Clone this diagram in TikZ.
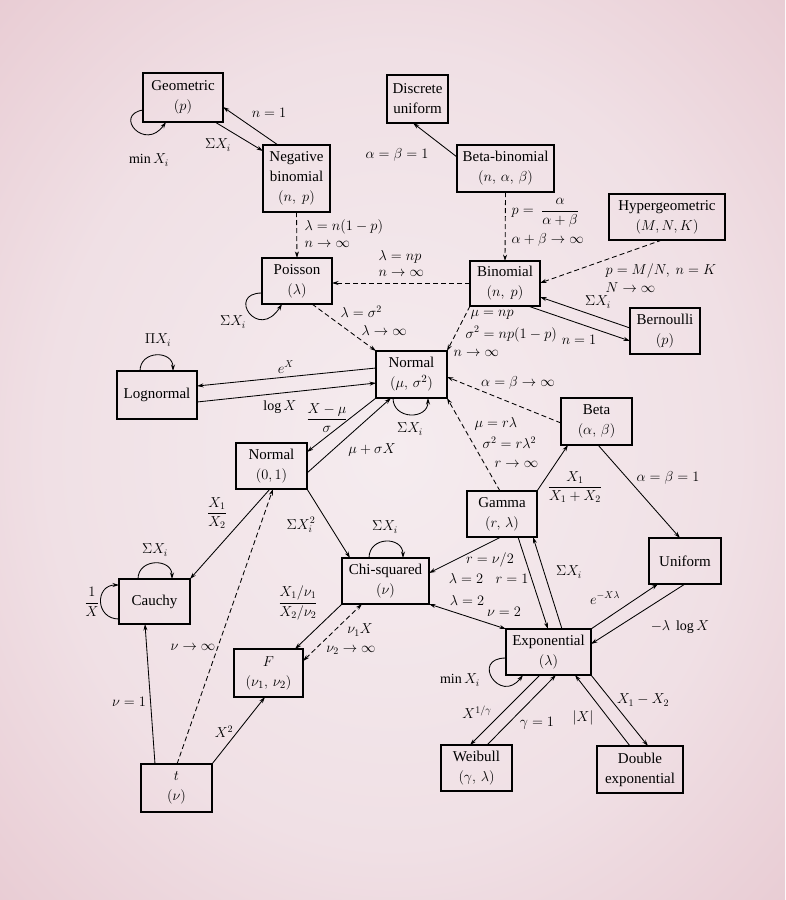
\documentclass[tikz,border=0pt]{standalone}
\usepackage{amsmath}
\usepackage{fontspec}
\setmainfont{Liberation Serif}
\usetikzlibrary{arrows.meta,calc}
\definecolor{bgA}{RGB}{245,236,239}
\definecolor{bgB}{RGB}{240,224,229}
\definecolor{bgC}{RGB}{225,184,194}
\pgfdeclareradialshading{bgshade}{\pgfpoint{0bp}{0bp}}{color(0bp)=(bgA); color(22bp)=(bgB); color(50bp)=(bgC)}
\tikzset{
  box/.style={draw, line width=1.6pt, inner sep=0pt, outer sep=0pt, align=center,
    font=\fontsize{15}{20}\selectfont},
  lab/.style={font=\fontsize{14}{16}\selectfont, inner sep=0.5pt},
  arr/.style={-{Stealth[length=6.5pt,width=4pt]}, line width=0.85pt},
  arrtwo/.style={{Stealth[length=6.5pt,width=4pt]}-{Stealth[length=6.5pt,width=4pt]}, line width=0.85pt},
  dsh/.style={dash pattern=on 5pt off 3pt}
}
\begin{document}
\begin{tikzpicture}[x=1pt,y=-1pt]
\shade[shading=bgshade] (0,0) rectangle (785,900);
\useasboundingbox (0,0) rectangle (785,900);

% boxes
\node[box, minimum width=80pt, minimum height=49pt] (geo) at (183,97.5) {Geometric\\$(p)$};
\node[box, minimum width=67pt, minimum height=67pt] (negbin) at (296.5,178.5) {Negative\\binomial\\$(n,\ p)$};
\node[box, minimum width=61pt, minimum height=48pt] (dunif) at (417.5,99) {Discrete\\uniform};
\node[box, minimum width=97pt, minimum height=47pt] (betabin) at (505.5,168.5) {Beta-binomial\\$(n,\,\alpha,\,\beta)$};
\node[box, minimum width=116pt, minimum height=46pt] (hyper) at (667,217) {Hypergeometric\\$(M,N,K)$};
\node[box, minimum width=70pt, minimum height=45pt] (binom) at (505,283.5) {Binomial\\$(n,\ p)$};
\node[box, minimum width=70pt, minimum height=46pt] (bern) at (665,331) {Bernoulli\\$(p)$};
\node[box, minimum width=71pt, minimum height=47pt] (normal) at (411.5,374.5) {Normal\\$(\mu,\,\sigma^2)$};
\node[box, minimum width=71pt, minimum height=47pt] (beta) at (596.5,421.5) {Beta\\$(\alpha,\,\beta)$};
\node[box, minimum width=70pt, minimum height=46pt] (poisson) at (297,281) {Poisson\\$(\lambda)$};
\node[box, minimum width=80pt, minimum height=48pt] (logn) at (157,395) {Lognormal};
\node[box, minimum width=71pt, minimum height=46pt] (snorm) at (271.5,466) {Normal\\$(0,1)$};
\node[box, minimum width=71pt, minimum height=45pt] (cauchy) at (154.5,601.5) {Cauchy};
\node[box, minimum width=87pt, minimum height=46pt] (chisq) at (385.5,581) {Chi-squared\\$(\nu)$};
\node[box, minimum width=70pt, minimum height=46pt] (gamma) at (502,514) {Gamma\\$(r,\,\lambda)$};
\node[box, minimum width=72pt, minimum height=46pt] (unif) at (685,561) {Uniform};
\node[box, minimum width=85pt, minimum height=46pt] (expo) at (548.5,652) {Exponential\\$(\lambda)$};
\node[box, minimum width=71pt, minimum height=46pt] (weib) at (476.5,768) {Weibull\\$(\gamma,\,\lambda)$};
\node[box, minimum width=86pt, minimum height=47pt] (dexp) at (640,769.5) {Double\\exponential};
\node[box, minimum width=69pt, minimum height=48pt] (F) at (268.5,673) {$F$\\$(\nu_1,\,\nu_2)$};
\node[box, minimum width=71pt, minimum height=48pt] (t) at (176.5,788) {$t$\\$(\nu)$};

% connectors
\draw[arr] ($(negbin.north west)+(15,0)$) -- ($(geo.north west)+(80,34)$);
\draw[arr] ($(geo.north west)+(72,49)$) -- ($(negbin.north west)+(0,6)$);
\draw[arr] ($(geo.north west)+(0,37)$) .. controls +(-30,5) and +(-21,30) .. ($(geo.north west)+(23,49)$);
\draw[arr,dsh] (negbin.south) -- (poisson.north);
\draw[arr] ($(betabin.north west)+(0,12)$) -- ($(dunif.north west)+(26,48)$);
\draw[arr,dsh] (betabin.south) -- (binom.north);
\draw[arr,dsh] ($(hyper.north west)+(53,46)$) -- ($(binom.north west)+(70,22)$);
\draw[arr,dsh] ($(binom.north west)+(0,22)$) -- ($(poisson.north west)+(70,25)$);
\draw[arr] ($(bern.north west)+(0,20)$) -- ($(binom.north west)+(70,36)$);
\draw[arr] ($(binom.north west)+(58,45)$) -- ($(bern.north west)+(0,33)$);
\draw[arr,dsh] (binom.south west) -- (normal.north east);
\draw[arr,dsh] ($(poisson.north west)+(50,46)$) -- (normal.north west);
\draw[arr] ($(poisson.north west)+(0,35)$) .. controls +(-36,0) and +(-24,38) .. ($(poisson.north west)+(20,46)$);
\draw[arr] ($(normal.north west)+(0,17)$) -- ($(logn.north west)+(80,15)$);
\draw[arr] ($(logn.north west)+(80,31)$) -- ($(normal.north west)+(0,32)$);
\draw[arr] ($(logn.north west)+(23,0)$) .. controls +(0,-21) and +(0,-21) .. ($(logn.north west)+(56,0)$);
\draw[arr] (normal.south west) -- ($(snorm.north west)+(71,9)$);
\draw[arr] ($(snorm.north west)+(71,30)$) -- ($(normal.north west)+(15,47)$);
\draw[arr] ($(normal.north west)+(17,47)$) .. controls +(0,22) and +(0,22) .. ($(normal.north west)+(52,47)$);
\draw[arr,dsh] ($(beta.north west)+(0,25)$) -- ($(normal.north west)+(71,26)$);
\draw[arr,dsh] ($(gamma.north west)+(33,0)$) -- (normal.south east);
\draw[arr] (gamma.north east) -- ($(beta.north west)+(7,47)$);
\draw[arr] ($(beta.north west)+(37,47)$) -- ($(unif.north west)+(31,0)$);
\draw[arr] (expo.north east) -- ($(unif.north west)+(9,46)$);
\draw[arr] ($(unif.north west)+(36,46)$) -- ($(expo.north west)+(85,15)$);
\draw[arr] ($(gamma.north west)+(51,46)$) -- ($(expo.north west)+(42,0)$);
\draw[arr] ($(expo.north west)+(56,0)$) -- ($(gamma.north west)+(66,46)$);
\draw[arr] ($(gamma.north west)+(34,46)$) -- ($(chisq.north west)+(87,15)$);
\draw[arrtwo] (chisq.south east) -- (expo.north west);
\draw[arr] ($(chisq.north west)+(27,0)$) .. controls +(0,-22) and +(0,-22) .. ($(chisq.north west)+(61,0)$);
\draw[arr] (snorm.south east) -- ($(chisq.north west)+(8,0)$);
\draw[arr] ($(snorm.north west)+(34,46)$) -- (cauchy.north east);
\draw[arr] ($(cauchy.north west)+(19,0)$) .. controls +(0,-21) and +(0,-21) .. ($(cauchy.north west)+(53,0)$);
\draw[arr] ($(cauchy.north west)+(0,40)$) .. controls +(-24,0) and +(-24,0) .. ($(cauchy.north west)+(0,6)$);
\draw[arr] ($(t.north west)+(14,0)$) -- ($(cauchy.north west)+(26,45)$);
\draw[arr,dsh] ($(t.north west)+(36,0)$) -- ($(snorm.north west)+(37,46)$);
\draw[arr] (t.north east) -- ($(F.north west)+(31,48)$);
\draw[arr] (chisq.south west) -- ($(F.north west)+(61,0)$);
\draw[arrtwo,dsh] ($(F.north west)+(69,12)$) -- ($(chisq.north west)+(20,46)$);
\draw[arr] ($(expo.north west)+(0,29)$) .. controls +(-36,0) and +(-23,30) .. ($(expo.north west)+(17,46)$);
\draw[arr] ($(expo.north west)+(34,46)$) -- ($(weib.north west)+(29,0)$);
\draw[arr] ($(weib.north west)+(46,0)$) -- ($(expo.north west)+(50,46)$);
\draw[arr] ($(dexp.north west)+(33,0)$) -- ($(expo.north west)+(69,46)$);
\draw[arr] (expo.south east) -- ($(dexp.north west)+(51,0)$);

% labels
\node[lab] (L1) at (269,113) {$n=1$};
\node[lab] (L2) at (218,145) {$\Sigma X_i$};
\node[lab] (L3) at (149,160) {$\min X_i$};
\node[lab, anchor=west] (L4) at (304,227) {$\lambda=n(1-p)$};
\node[lab, anchor=west] (L5) at (304,244) {$n\to\infty$};
\node[lab] (L6) at (397,155) {$\alpha=\beta=1$};
\node[lab, anchor=west] (L7) at (511,213) {$p=\ \dfrac{\alpha}{\alpha+\beta}$};
\node[lab, anchor=west] (L8) at (511,240) {$\alpha+\beta\to\infty$};
\node[lab, anchor=west] (L9) at (605,271) {$p=M/N,\ n=K$};
\node[lab, anchor=west] (L10) at (605,288) {$N\to\infty$};
\node[lab, anchor=west] (L11) at (378,257) {$\lambda=np$};
\node[lab, anchor=west] (L12) at (378,273) {$n\to\infty$};
\node[lab] (L13) at (598,302) {$\Sigma X_i$};
\node[lab] (L14) at (579,340) {$n=1$};
\node[lab, anchor=west] (L15) at (470,315) {$\mu=np$};
\node[lab, anchor=west] (L16) at (465,334) {$\sigma^2=np(1-p)$};
\node[lab, anchor=west] (L17) at (453,353) {$n\to\infty$};
\node[lab, anchor=west] (L18) at (340,312) {$\lambda=\sigma^2$};
\node[lab, anchor=west] (L19) at (361,330) {$\lambda\to\infty$};
\node[lab] (L20) at (233,322) {$\Sigma X_i$};
\node[lab] (L21) at (158,340) {$\Pi X_i$};
\node[lab] (L22) at (286,367) {$e^X$};
\node[lab] (L23) at (280,407) {$\log X$};
\node[lab] (L24) at (327,418) {$\dfrac{X-\mu}{\sigma}$};
\node[lab] (L25) at (372,450) {$\mu+\sigma X$};
\node[lab] (L26) at (410,429) {$\Sigma X_i$};
\node[lab] (L27) at (518,383) {$\alpha=\beta\to\infty$};
\node[lab, anchor=west] (L28) at (474,424) {$\mu=r\lambda$};
\node[lab, anchor=west] (L29) at (482,443) {$\sigma^2=r\lambda^2$};
\node[lab, anchor=west] (L30) at (494,464) {$r\to\infty$};
\node[lab] (L31) at (575,487) {$\dfrac{X_1}{X_1+X_2}$};
\node[lab] (L32) at (668,478) {$\alpha=\beta=1$};
\node[lab] (L33) at (385,527) {$\Sigma X_i$};
\node[lab] (L34) at (490,560) {$r=\nu/2$};
\node[lab] (L35) at (466,578) {$\lambda=2$};
\node[lab] (L36) at (512,579) {$r=1$};
\node[lab] (L37) at (569,572) {$\Sigma X_i$};
\node[lab] (L38) at (467,600) {$\lambda=2$};
\node[lab] (L39) at (504,612) {$\nu=2$};
\node[lab] (L40) at (605,598) {$e^{-X\lambda}$};
\node[lab] (L41) at (680,627) {$-\lambda\ \log X$};
\node[lab] (L42) at (460,680) {$\min X_i$};
\node[lab] (L43) at (477,712) {$X^{1/\gamma}$};
\node[lab] (L44) at (537,723) {$\gamma=1$};
\node[lab] (L45) at (583,718) {$|X|$};
\node[lab] (L46) at (643,700) {$X_1-X_2$};
\node[lab] (L47) at (301,525) {$\Sigma X^2_i$};
\node[lab] (L48) at (217,513) {$\dfrac{X_1}{X_2}$};
\node[lab] (L49) at (155,550) {$\Sigma X_i$};
\node[lab] (L50) at (92,602) {$\dfrac{1}{X}$};
\node[lab] (L51) at (298,603) {$\dfrac{X_1/\nu_1}{X_2/\nu_2}$};
\node[lab] (L52) at (360,630) {$\nu_1 X$};
\node[lab] (L53) at (351,650) {$\nu_2\to\infty$};
\node[lab] (L54) at (193,647) {$\nu\to\infty$};
\node[lab] (L55) at (129,702) {$\nu=1$};
\node[lab] (L56) at (224,732) {$X^2$};
\end{tikzpicture}
\end{document}
